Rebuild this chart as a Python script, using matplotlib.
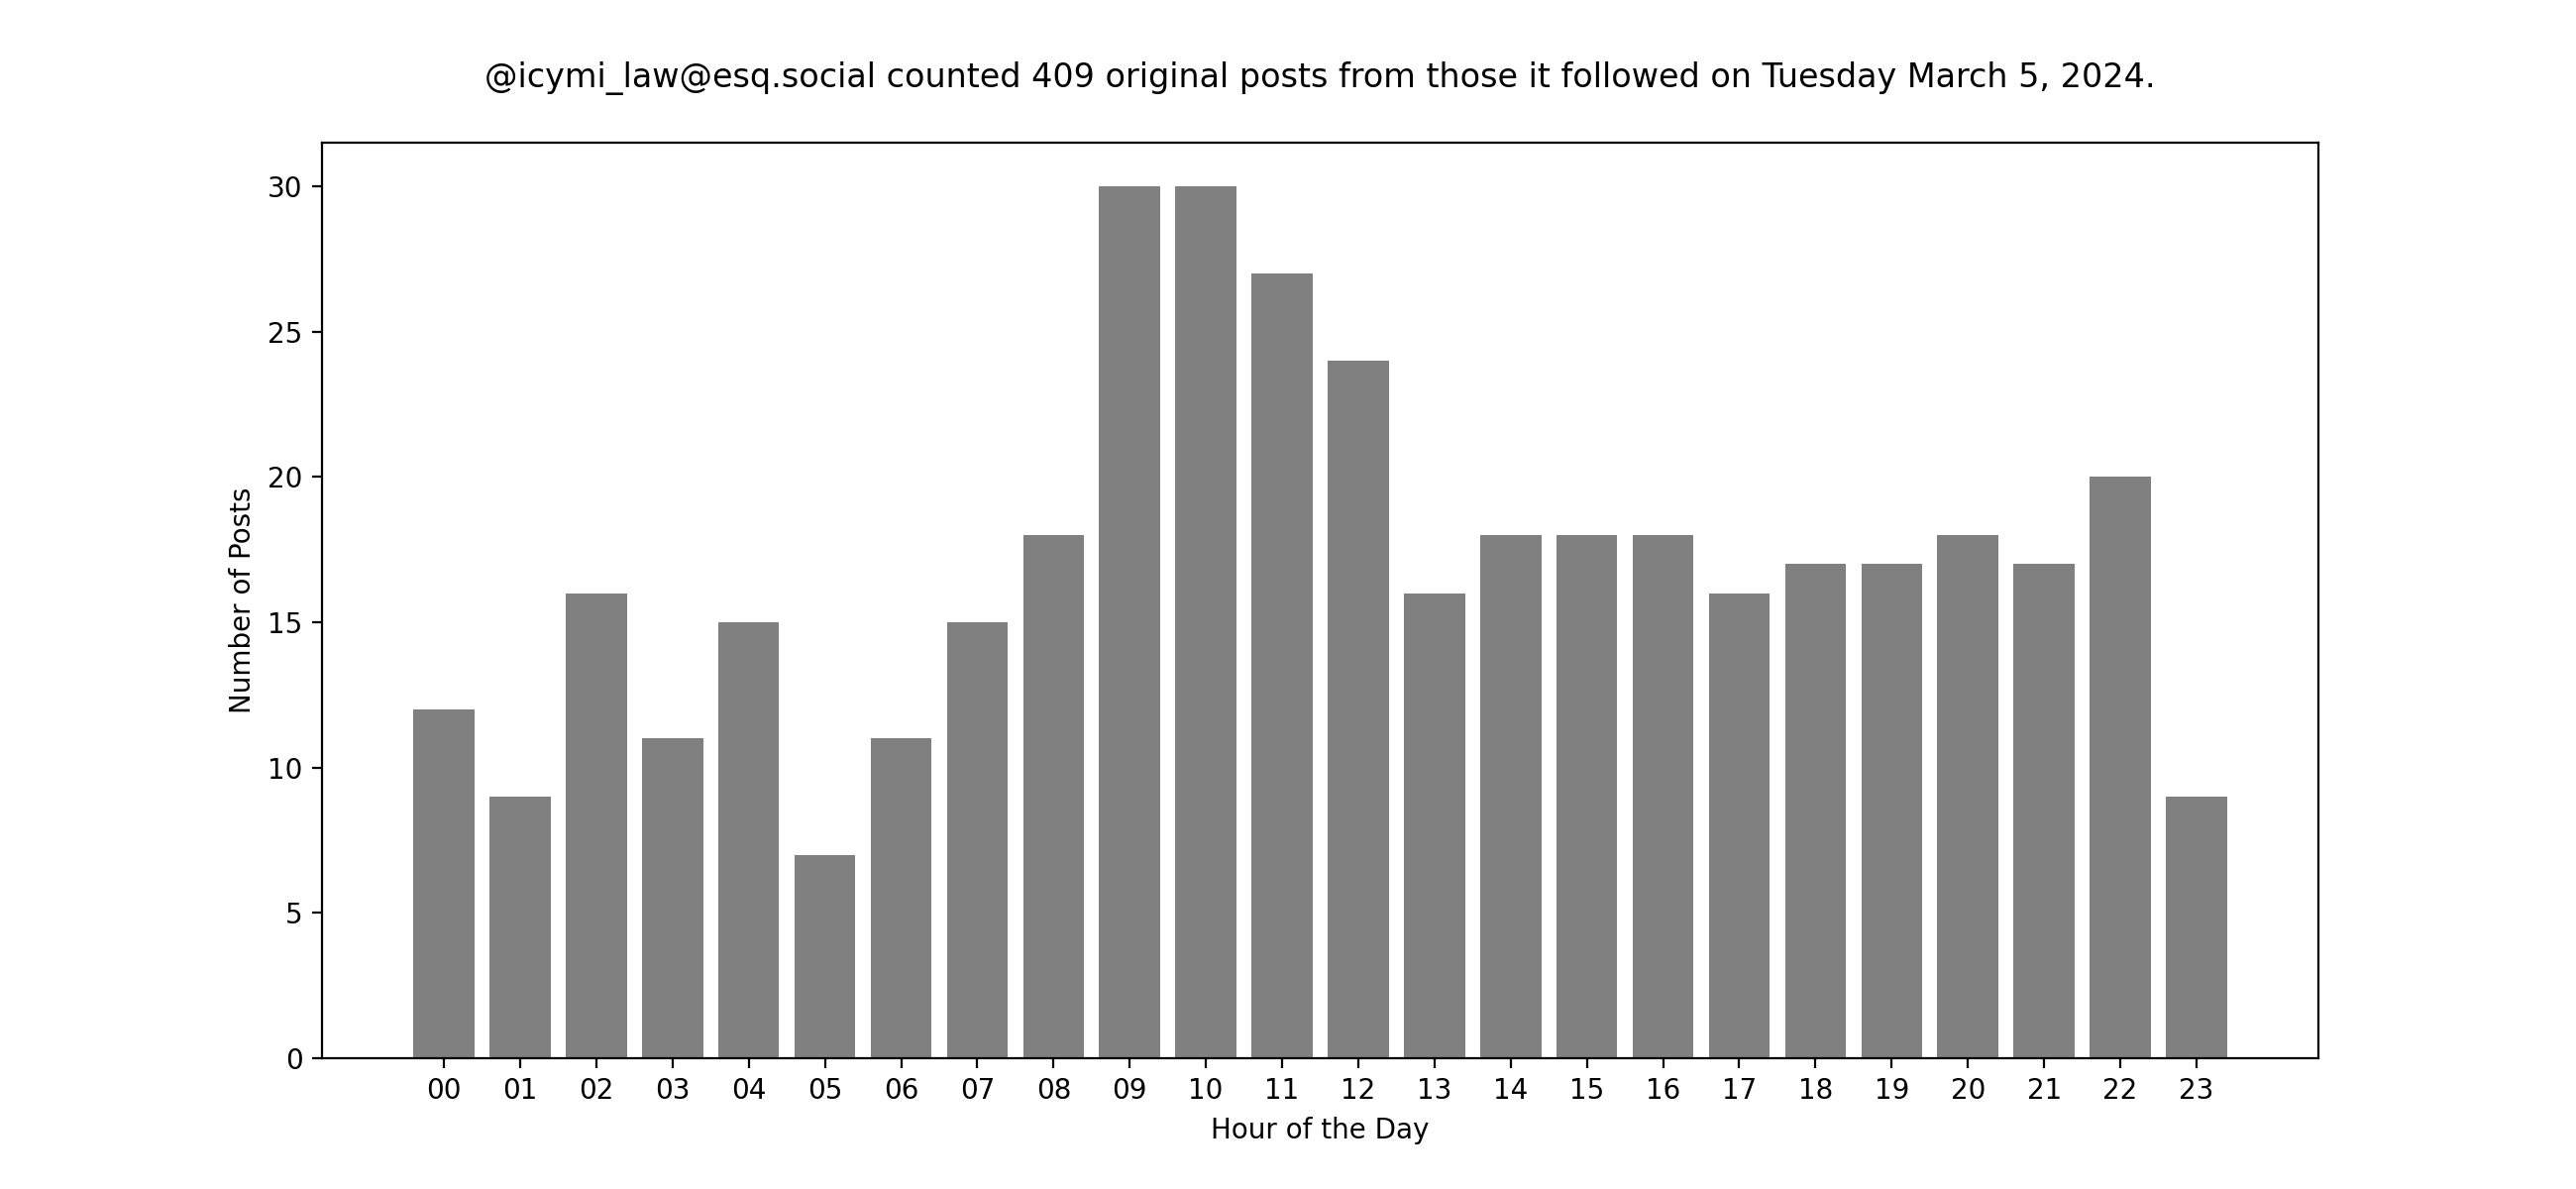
import matplotlib
matplotlib.use("Agg")
import matplotlib.pyplot as plt

hours = ["%02d" % h for h in range(24)]
posts = [12, 9, 16, 11, 15, 7, 11, 15, 18, 30, 30, 27,
         24, 16, 18, 18, 18, 16, 17, 17, 18, 17, 20, 9]

fig, ax = plt.subplots(figsize=(13, 6), dpi=200)
ax.bar(range(len(hours)), posts, color="grey")
ax.set_xticks(range(len(hours)))
ax.set_xticklabels(hours)
ax.set_xlim(-1.6, len(hours) - 1 + 1.6)
ax.set_xlabel("Hour of the Day")
ax.set_ylabel("Number of Posts")
ax.set_title("@icymi_law@esq.social counted 409 original posts from those it followed on Tuesday March 5, 2024.",
             pad=20)
fig.savefig("out.png")
